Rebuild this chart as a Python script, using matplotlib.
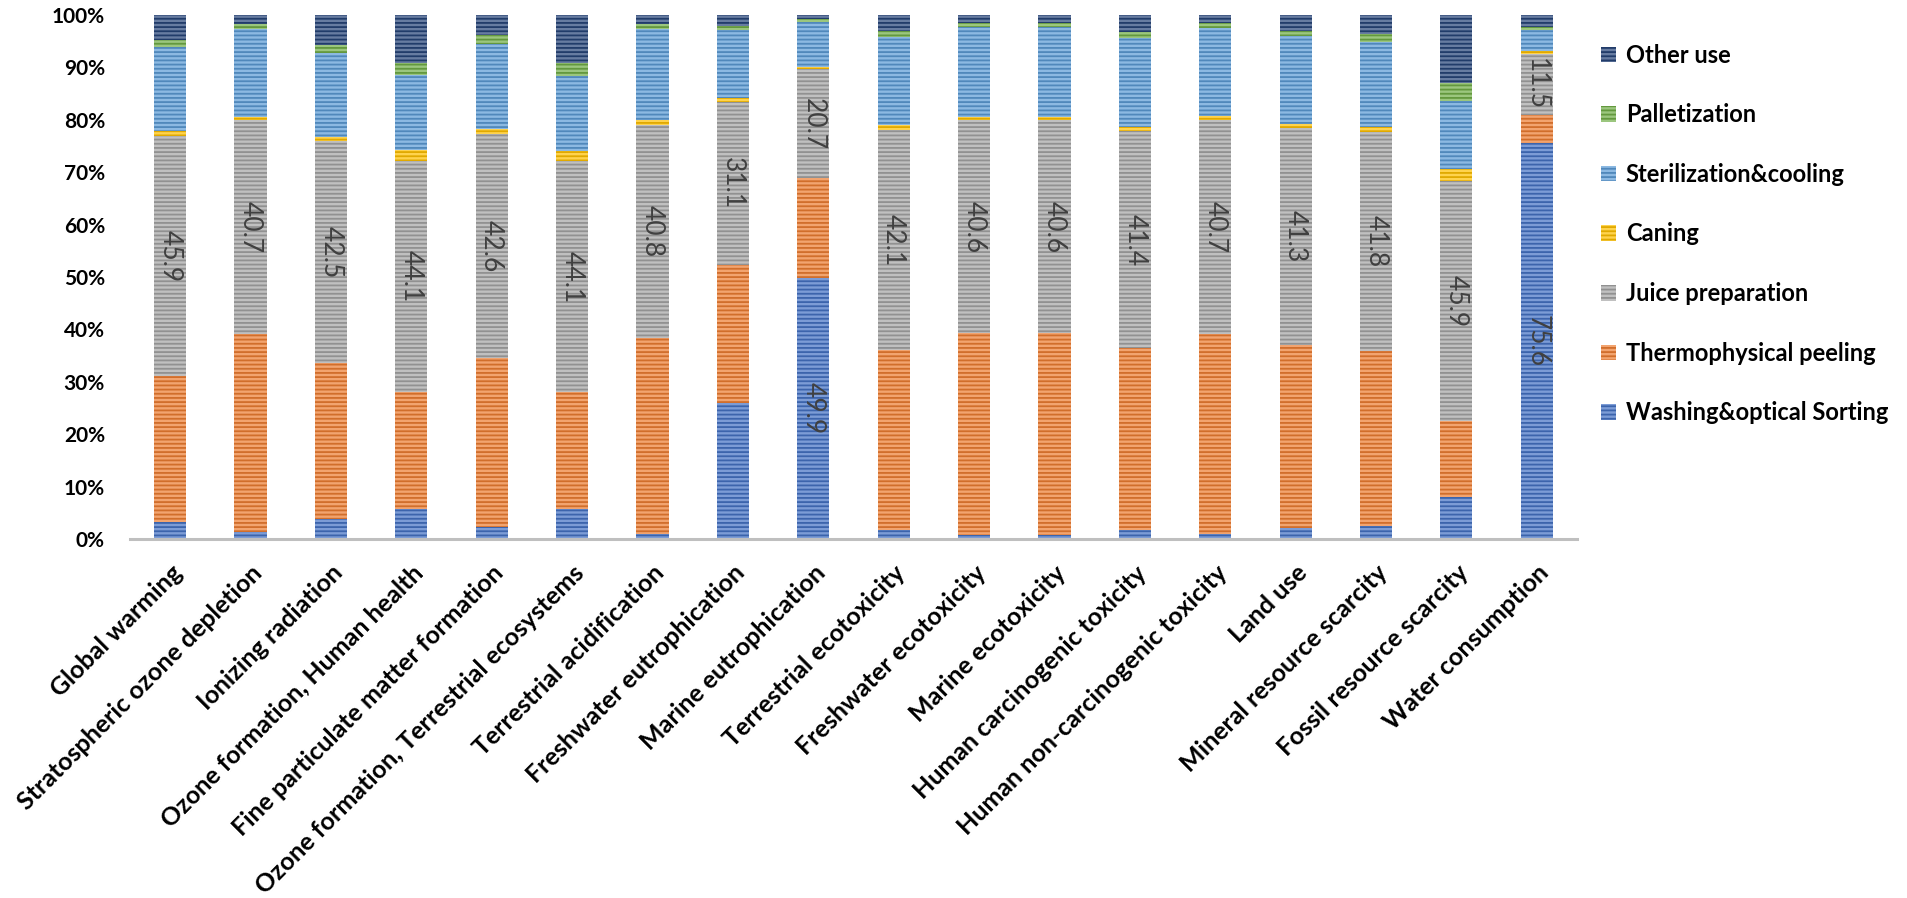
import numpy as np
import matplotlib.pyplot as plt
from matplotlib.colors import to_rgb

plt.rcParams['font.family'] = ['Lato', 'DejaVu Sans']
plt.rcParams['hatch.linewidth'] = 1.3

categories = ['Global warming', 'Stratospheric ozone depletion', 'Ionizing radiation',
              'Ozone formation, Human health', 'Fine particulate matter formation',
              'Ozone formation, Terrestrial ecosystems', 'Terrestrial acidification',
              'Freshwater eutrophication', 'Marine eutrophication', 'Terrestrial ecotoxicity',
              'Freshwater ecotoxicity', 'Marine ecotoxicity', 'Human carcinogenic toxicity',
              'Human non-carcinogenic toxicity', 'Land use', 'Mineral resource scarcity',
              'Fossil resource scarcity', 'Water consumption']

washing = [3.2, 1.3, 3.8, 5.8, 2.3, 5.7, 1.0, 26.0, 49.9, 1.8, 0.8, 0.7, 1.8, 0.9, 2.0, 2.4, 8.0, 75.6]
peeling = [27.9, 37.9, 29.7, 22.3, 32.3, 22.3, 37.3, 26.3, 19.0, 34.2, 38.5, 38.6, 34.6, 38.3, 35.1, 33.5, 14.5, 5.4]
juice = [45.9, 40.7, 42.5, 44.1, 42.6, 44.1, 40.8, 31.1, 20.7, 42.1, 40.6, 40.6, 41.4, 40.7, 41.3, 41.8, 45.9, 11.5]
caning = [0.8, 0.7, 0.8, 2.0, 1.0, 2.0, 0.9, 0.8, 0.4, 1.0, 0.6, 0.6, 0.9, 0.8, 0.8, 0.9, 2.2, 0.7]
steril = [16.0, 16.7, 15.9, 14.3, 16.2, 14.3, 17.3, 12.9, 8.6, 16.7, 17.3, 17.3, 16.9, 16.9, 16.7, 16.2, 12.9, 3.9]
pallet = [1.5, 0.9, 1.6, 2.4, 1.7, 2.5, 0.9, 0.8, 0.6, 1.1, 0.7, 0.7, 1.2, 0.9, 1.1, 1.5, 3.6, 0.7]
other = [4.7, 1.8, 5.7, 9.1, 3.9, 9.1, 1.8, 2.1, 0.8, 3.1, 1.5, 1.5, 3.2, 1.5, 3.0, 3.7, 12.9, 2.2]

series_names = ['Washing&optical Sorting', 'Thermophysical peeling', 'Juice preparation',
                'Caning', 'Sterilization&cooling', 'Palletization', 'Other use']
series_values = [washing, peeling, juice, caning, steril, pallet, other]
series_colors = ['#4472C4', '#ED7D31', '#A5A5A5', '#FFC000', '#5B9BD5', '#70AD47', '#264478']

# which segments carry a value label: (series index, bar index)
labelled = [(2, i) for i in range(len(categories))] + [(0, 8), (0, 17)]


def mix(c, other_c, t):
    a = np.array(to_rgb(c))
    b = np.array(to_rgb(other_c))
    return tuple(a * (1 - t) + b * t)


fig = plt.figure(figsize=(19.08, 8.98), dpi=100)
ax = fig.add_axes([0.0681, 0.3998, 0.7584, 0.5835])

x = np.arange(len(categories))
bottom = np.zeros(len(categories))
bars = []
for name, vals, col in zip(series_names, series_values, series_colors):
    vals = np.array(vals)
    b = ax.bar(x, vals, width=0.4, bottom=bottom, color=mix(col, 'white', 0.3),
               edgecolor=mix(col, 'black', 0.12), linewidth=0, hatch='----', label=name)
    bars.append((b, bottom.copy(), vals))
    bottom += vals

for s, i in labelled:
    b, bot, vals = bars[s]
    ax.text(x[i], bot[i] + vals[i] / 2, f'{vals[i]:.1f}', rotation=270,
            ha='center', va='center', fontsize=19, color='#404040')

ax.set_xlim(-0.5, 17.5)
ax.set_ylim(0, 100)
ax.set_yticks(np.arange(0, 101, 10))
ax.set_yticklabels([f'{v}%' for v in range(0, 101, 10)], fontsize=15, fontweight='bold')
ax.set_xticks(x)
ax.set_xticklabels(categories, rotation=45, ha='right', rotation_mode='anchor',
                   fontsize=18, fontweight='bold')
ax.tick_params(axis='y', length=0, pad=18)
ax.tick_params(axis='x', length=0, pad=16)
for side in ['top', 'right', 'left']:
    ax.spines[side].set_visible(False)
ax.spines['bottom'].set_color('#BFBFBF')
ax.spines['bottom'].set_linewidth(2.2)

handles, labels = ax.get_legend_handles_labels()
fig.legend(handles[::-1], labels[::-1], loc='upper left', bbox_to_anchor=(0.828, 0.975),
           frameon=False, prop={'size': 17, 'weight': 'bold'}, handlelength=0.65,
           handleheight=0.65, handletextpad=0.4, labelspacing=1.55)

fig.savefig('out.png', dpi=100)
